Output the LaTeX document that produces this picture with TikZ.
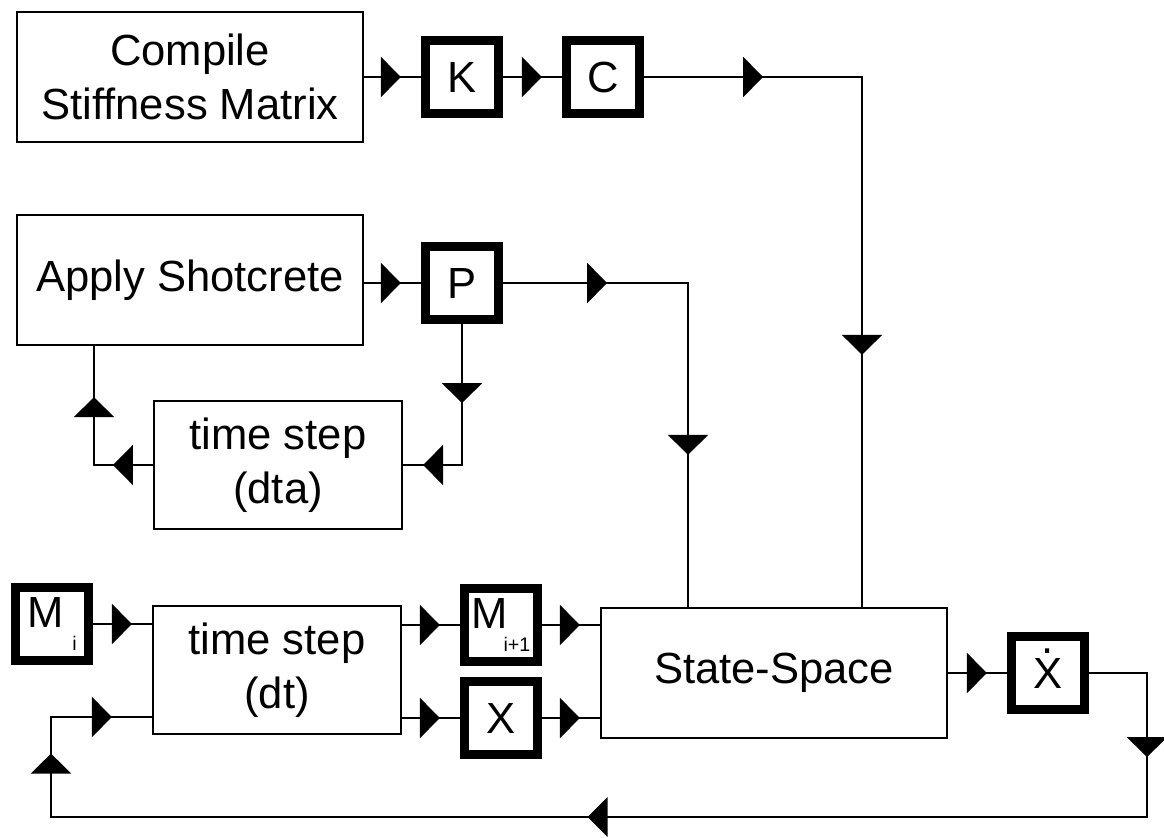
\documentclass[tikz,border=0pt]{standalone}
\usepackage{fontspec}
\setmainfont{Liberation Sans}
\usetikzlibrary{arrows.meta}
\usetikzlibrary{decorations.markings}
\usetikzlibrary{positioning}

\begin{document}
\begin{tikzpicture}[x=0.025cm,y=-0.025cm,line width=1.3pt,
    font=\fontsize{31}{38.5}\selectfont,
    block node/.style={draw,line width=1.5pt,align=center,inner sep=0pt,minimum width=8.65cm,minimum height=3.25cm},
    var node/.style={draw,line width=6.4pt,inner sep=0pt,minimum size=1.83cm},
    arr/.style={postaction={decorate,decoration={markings,mark=at position #1 with {\arrow{Triangle[width=1cm,length=0.5cm]}}}}}]
    \useasboundingbox (0,0) rectangle (1164,837);
    % blocks
    \node[block node] (comp) at (190,77) {Compile\\Stiffness Matrix};
    \node[block node] (apply) at (190,280) {Apply Shotcrete};
    \node[block node,minimum width=6.2cm,minimum height=3.2cm] (dta) at (278,465) {time step\\(dta)};
    \node[block node,minimum width=6.2cm,minimum height=3.2cm] (dt) at (277,670) {time step\\(dt)};
    \node[block node] (ss) at (774,673) {State-Space};
    % variables
    \node[var node] (K) at (462,77) {K};
    \node[var node] (C) at (603,77) {C};
    \node[var node] (P) at (462,283) {P};
    \node[var node] (mi) at (52,624) {M\hspace{0.2em}\raisebox{-0.53em}{\fontsize{14}{14}\selectfont i}};
    \node[var node] (mnext) at (501,625) {M\hspace{-0.1em}\raisebox{-0.53em}{\fontsize{14}{14}\selectfont i+1}};
    \node[var node] (x) at (501,718) {X};
    \node[var node] (xdot) at (1048,673) {\ooalign{X\cr\hidewidth\raisebox{0.8em}{.}\hidewidth}};
    % corners
    \coordinate (cc) at (862,77);
    \coordinate (pc) at (688,283);
    \coordinate (pd) at (462,465);
    \coordinate (ad) at (94,465);
    \coordinate (xr) at (1147,673);
    \coordinate (xb) at (1147,817);
    \coordinate (lb) at (51,817);
    \coordinate (lt) at (51,717);
    % connectors
    \draw[arr=-0.5cm] (comp) -- (K);
    \draw[arr=-0.5cm] (K) -- (C);
    \draw[arr=2.975cm,arr=-6.3cm] (C) -- (cc) -- (cc |- ss.north);
    \draw[arr=-0.5cm] (apply.east |- P) -- (P);
    \draw[arr=2.6cm,arr=-3.8cm] (P) -- (pc) -- (pc |- ss.north);
    \draw[arr=1.975cm,arr=-0.5cm] (P) -- (pd) -- (dta);
    \draw[arr=1cm,arr=-1.275cm] (dta) -- (ad) -- (ad |- apply.south);
    \draw[arr=-0.5cm] (mi) -- (mi -| dt.west);
    \draw[arr=-0.5cm] (dt.east |- mnext) -- (mnext);
    \draw[arr=-0.5cm] (dt.east |- x) -- (x);
    \draw[arr=-0.5cm] (mnext) -- (mnext -| ss.west);
    \draw[arr=-0.5cm] (x) -- (x -| ss.west);
    \draw[arr=-0.5cm] (ss) -- (xdot);
    \draw[arr=3.55cm,arr=19.025cm,arr=34.025cm,arr=-1cm] (xdot) -- (xr) -- (xb) -- (lb) -- (lt) -- (lt -| dt.west);
\end{tikzpicture}
\end{document}
